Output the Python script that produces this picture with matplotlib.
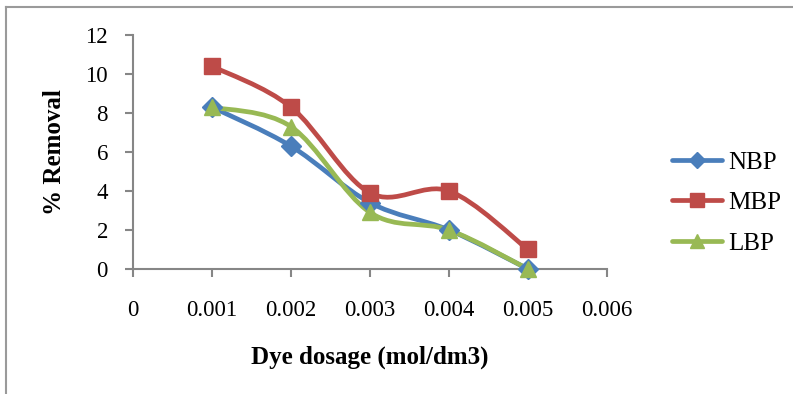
import matplotlib
matplotlib.use("Agg")
import matplotlib.pyplot as plt
from matplotlib.path import Path
from matplotlib.patches import PathPatch
from matplotlib.lines import Line2D
import numpy as np

plt.rcParams['font.family'] = ['Liberation Serif', 'DejaVu Serif']

dosage = [0.001, 0.002, 0.003, 0.004, 0.005]
nbp = [8.3, 6.3, 3.4, 2.0, 0.0]
mbp = [10.4, 8.3, 3.9, 4.0, 1.0]
lbp = [8.3, 7.3, 2.9, 2.0, 0.0]
series_names = ["NBP", "MBP", "LBP"]
x_ticks = [0, 0.001, 0.002, 0.003, 0.004, 0.005, 0.006]
x_tick_labels = ["0", "0.001", "0.002", "0.003", "0.004", "0.005", "0.006"]
y_ticks = [0, 2, 4, 6, 8, 10, 12]

colors = ["#4A7EBB", "#BE4B48", "#98B954"]
markers = ["D", "s", "^"]
msizes = [10, 12, 12]

fig = plt.figure(figsize=(7.93, 3.94), dpi=100)
ax = fig.add_axes([0.1677, 0.3173, 0.5977, 0.5939])


def smooth_path(xs, ys):
    pts = np.column_stack([xs, ys])
    n = len(pts)
    verts = [pts[0]]
    codes = [Path.MOVETO]
    for i in range(n - 1):
        p0 = pts[i - 1] if i > 0 else pts[i]
        p1 = pts[i]
        p2 = pts[i + 1]
        p3 = pts[i + 2] if i + 2 < n else pts[i + 1]
        c1 = p1 + (p2 - p0) / 6.0
        c2 = p2 - (p3 - p1) / 6.0
        verts += [c1, c2, p2]
        codes += [Path.CURVE4] * 3
    return Path(verts, codes)


handles = []
for vals, c, m, ms, name in zip([nbp, mbp, lbp], colors, markers, msizes, series_names):
    patch = PathPatch(smooth_path(dosage, vals), facecolor='none', edgecolor=c,
                      lw=3.4, capstyle='round', joinstyle='round', zorder=3)
    ax.add_patch(patch)
    ax.plot(dosage, vals, ls='none', marker=m, ms=ms, color=c, zorder=4, clip_on=False)
    handles.append(Line2D([0], [0], color=c, lw=3.4, marker=m, ms=ms * 0.85,
                          solid_capstyle='round', label=name))

ax.set_xlim(0, 0.006)
ax.set_ylim(0, 12)
ax.set_xticks(x_ticks)
ax.set_xticklabels(x_tick_labels)
ax.set_yticks(y_ticks)

for s in ['top', 'right']:
    ax.spines[s].set_visible(False)
for s in ['left', 'bottom']:
    ax.spines[s].set_color('#868686')
    ax.spines[s].set_linewidth(1.5)
ax.tick_params(axis='both', colors='#868686', length=6, width=1.5, labelsize=16.5,
               labelcolor='black')
ax.tick_params(axis='x', pad=16)
ax.tick_params(axis='y', pad=12)

ax.set_xlabel("Dye dosage (mol/dm3)", fontsize=18, fontweight='bold', labelpad=18)
ax.set_ylabel("% Removal", fontsize=18, fontweight='bold', labelpad=14)

fig.legend(handles=handles, loc='center left', bbox_to_anchor=(0.819, 0.485),
           frameon=False, fontsize=18, handlelength=2.0, labelspacing=0.72,
           handletextpad=0.25)

fig.add_artist(Line2D([6 / 793, 6 / 793], [0, 1 - 7 / 394], transform=fig.transFigure,
                      color='#9a9a9a', lw=1.5))
fig.add_artist(Line2D([6 / 793, 1], [1 - 7 / 394, 1 - 7 / 394], transform=fig.transFigure,
                      color='#9a9a9a', lw=1.5))

fig.savefig("out.png", dpi=100)
